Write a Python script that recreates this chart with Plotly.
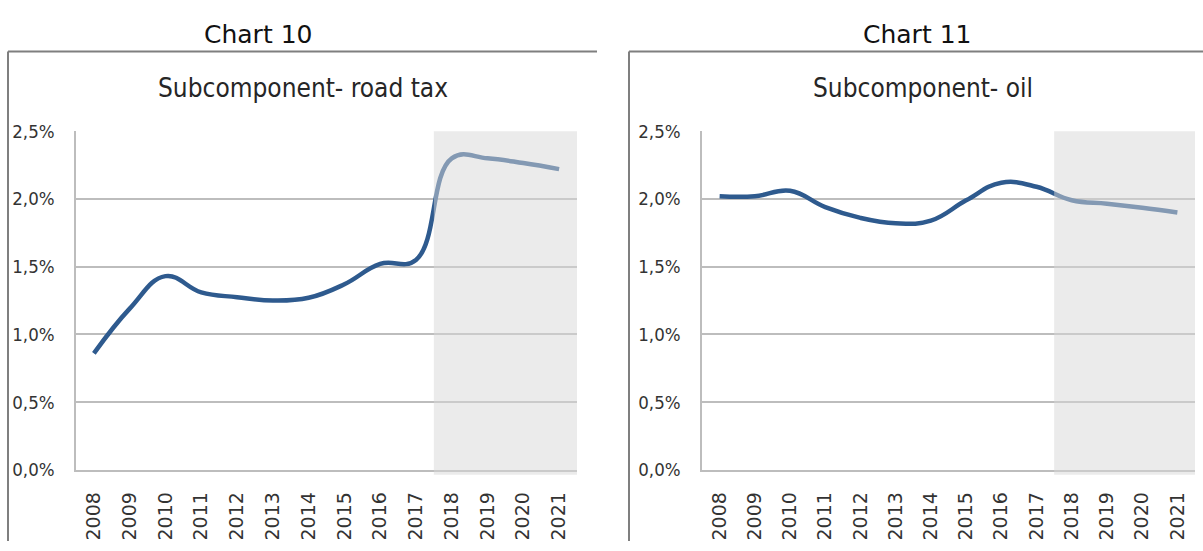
import plotly.graph_objects as go

# Years shown on both charts
years = ["2008", "2009", "2010", "2011", "2012", "2013", "2014",
         "2015", "2016", "2017", "2018", "2019", "2020", "2021"]

# Subcomponent values, %
road_tax = [0.86, 1.19, 1.43, 1.31, 1.275, 1.25, 1.27, 1.37, 1.52, 1.55, 2.30, 2.30, 2.265, 2.22]
oil = [2.02, 2.02, 2.06, 1.94, 1.86, 1.82, 1.84, 1.99, 2.12, 2.09, 1.99, 1.965, 1.935, 1.90]

chart_titles = ["Chart 10", "Chart 11"]
panel_titles = ["Subcomponent- road tax", "Subcomponent- oil"]
y_ticks = [0, 0.5, 1.0, 1.5, 2.0, 2.5]
y_tick_text = [f"{v:.1f}".replace(".", ",") + "%" for v in y_ticks]

W, H = 1203, 551
LINE_BLUE = "#2E5A8E"
GRID = "#BDBDBD"
NARROW = "DejaVu Sans Condensed, Liberation Sans Narrow, Arial Narrow, sans-serif"
VERDANA = "DejaVu Sans, Verdana, sans-serif"


def px_x(p):
    return p / W


def px_y(p):
    return 1 - p / H


y_dom = [px_y(477), px_y(125)]
x_doms = [[px_x(76), px_x(577)], [px_x(702), px_x(1195)]]

fig = go.Figure()
for i, vals in enumerate([road_tax, oil]):
    sfx = "" if i == 0 else str(i + 1)
    fig.add_trace(go.Scatter(
        x=years, y=vals, mode="lines",
        line=dict(color=LINE_BLUE, width=4.5, shape="spline", smoothing=1.2),
        xaxis="x" + sfx, yaxis="y" + sfx, showlegend=False, hoverinfo="skip",
    ))

layout = dict(
    width=W, height=H,
    margin=dict(l=0, r=0, t=0, b=0),
    paper_bgcolor="white", plot_bgcolor="white",
    showlegend=False,
)

axis_common_x = dict(
    type="category", range=[-0.5, 13.5], tickangle=-90,
    showgrid=False, showline=True, linecolor=GRID, linewidth=1.5,
    ticks="", ticklabelstandoff=13,
    tickfont=dict(family=VERDANA, size=19, color="#333333"),
    fixedrange=True,
)
axis_common_y = dict(
    range=[0, 2.5], tickmode="array", tickvals=y_ticks, ticktext=y_tick_text,
    showgrid=True, gridcolor=GRID, gridwidth=1.5,
    showline=True, linecolor=GRID, linewidth=1.5,
    zeroline=False, ticks="", ticklabelstandoff=16,
    tickfont=dict(family=NARROW, size=18.5, color="#333333"),
    fixedrange=True,
)

for i in range(2):
    sfx = "" if i == 0 else str(i + 1)
    layout["xaxis" + sfx] = dict(axis_common_x, domain=x_doms[i], anchor="y" + sfx)
    layout["yaxis" + sfx] = dict(axis_common_y, domain=y_dom, anchor="x" + sfx)

shapes = []
# Forecast period shading (2018-2021), drawn semi-transparent over the line
for i in range(2):
    sfx = "" if i == 0 else str(i + 1)
    shapes.append(dict(
        type="rect", xref="x" + sfx, yref="paper",
        x0=9.5, x1=13.5, y0=px_y(482), y1=px_y(125),
        fillcolor="rgba(215,215,215,0.5)", line=dict(width=0), layer="above",
    ))

# Panel frames (left and top edges)
frame = dict(color="#7F7F7F", width=2)
shapes += [
    dict(type="line", xref="paper", yref="paper", x0=px_x(8), x1=px_x(8),
         y0=px_y(42), y1=0, line=frame),
    dict(type="line", xref="paper", yref="paper", x0=px_x(8), x1=px_x(597),
         y0=px_y(42), y1=px_y(42), line=frame),
    dict(type="line", xref="paper", yref="paper", x0=px_x(629), x1=px_x(629),
         y0=px_y(42), y1=0, line=frame),
    dict(type="line", xref="paper", yref="paper", x0=px_x(629), x1=1,
         y0=px_y(42), y1=px_y(42), line=frame),
]
layout["shapes"] = shapes

annotations = []
for cx, txt in zip([257.5, 917], chart_titles):
    annotations.append(dict(
        text=txt, xref="paper", yref="paper", x=px_x(cx), y=px_y(24),
        xanchor="center", yanchor="middle", showarrow=False,
        font=dict(family=VERDANA, size=25, color="#111111"),
    ))
for cx, txt in zip([302.5, 923.5], panel_titles):
    annotations.append(dict(
        text=txt, xref="paper", yref="paper", x=px_x(cx), y=px_y(80),
        xanchor="center", yanchor="middle", showarrow=False,
        font=dict(family=NARROW, size=26, color="#262626"),
    ))
layout["annotations"] = annotations

fig.update_layout(**layout)
fig.write_html("out.html")
